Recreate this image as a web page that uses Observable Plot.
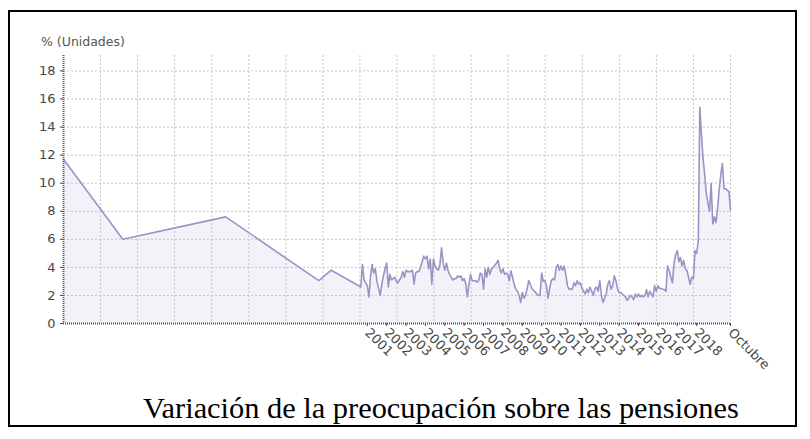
<!DOCTYPE html>
<html>
<head>
<meta charset="utf-8">
<script src="https://cdn.jsdelivr.net/npm/d3@7"></script>
<script src="https://cdn.jsdelivr.net/npm/@observablehq/plot@0.6"></script>
<style>
  html, body { margin: 0; padding: 0; background: #fff; }
  #wrap { position: relative; width: 810px; height: 439px; overflow: hidden; }
  #frame { position: absolute; left: 8px; top: 10px; width: 789px; height: 417px; border: 2px solid #000; box-sizing: border-box; }
  #chart { position: absolute; left: 0; top: 0; }
  #ylabel { position: absolute; left: 41px; top: 34px; font: 12.5px "DejaVu Sans", sans-serif; color: #555; white-space: nowrap; }
  #caption { position: absolute; left: 143px; top: 391px; font: 30.4px "Liberation Serif", serif; color: #000; white-space: nowrap; }
</style>
</head>
<body>
<div id="wrap">
  <div id="frame"></div>
  <div id="chart"></div>
  <div id="ylabel">% (Unidades)</div>
  <div id="caption">Variación de la preocupación sobre las pensiones</div>
</div>
<script>
// Early sparse observations
const fechasIniciales = ["1985-04-27", "1988-05-20", "1993-09-10", "1998-07-01", "1999-02-20", "2000-09-01"];
const valoresIniciales = [11.7, 6.0, 7.6, 3.05, 3.8, 2.6];

// Monthly series from October 2000 to October 2019
const inicioMensual = "2000-10-01";
const valoresMensuales = [
  4.2, 3.1, 2.9,                                                   // 2000 (oct-dic)
  2.7, 1.9, 3.3, 4.2, 3.6, 3.9, 3.0, 2.5, 2.0, 2.8, 3.4, 3.9,      // 2001
  4.3, 2.6, 3.5, 3.1, 3.2, 3.3, 3.0, 2.9, 3.1, 3.3, 3.7, 3.3,      // 2002
  3.8, 3.7, 3.7, 3.7, 3.8, 2.8, 3.6, 3.7, 3.7, 4.0, 4.4, 4.8,      // 2003
  4.6, 4.8, 3.9, 4.6, 2.8, 4.6, 4.1, 3.9, 3.8, 4.2, 5.4, 4.3,      // 2004
  3.8, 4.3, 3.8, 3.5, 3.3, 3.1, 3.2, 3.2, 3.4, 3.3, 3.4, 3.05,     // 2005
  3.2, 2.8, 1.9, 2.8, 3.5, 3.05, 3.05, 3.05, 2.95, 3.05, 3.6, 3.5, // 2006
  2.45, 3.9, 3.3, 4.0, 3.5, 3.9, 4.0, 4.15, 4.3, 4.5, 3.9, 3.6,    // 2007
  3.9, 3.5, 3.6, 3.5, 3.05, 3.75, 3.3, 2.8, 2.45, 2.3, 2.0, 1.5,   // 2008
  2.2, 1.8, 2.0, 2.45, 3.05, 2.8, 2.5, 2.35, 2.25, 2.1, 2.0, 2.0,  // 2009
  3.6, 3.0, 3.05, 2.7, 1.8, 2.5, 3.05, 3.2, 3.1, 4.0, 4.2, 3.8,    // 2010
  4.1, 3.8, 4.1, 3.5, 2.7, 2.45, 2.45, 2.45, 2.9, 2.7, 3.05, 2.8,  // 2011
  2.9, 2.5, 2.3, 2.1, 2.45, 2.2, 2.6, 2.3, 2.0, 2.5, 2.6, 2.3,     // 2012
  3.05, 2.0, 1.5, 1.8, 2.1, 2.8, 3.05, 2.45, 2.7, 3.4, 3.05, 2.45, // 2013
  2.2, 2.2, 2.1, 2.0, 1.9, 1.65, 1.8, 2.0, 1.9, 1.7, 2.1, 1.9,     // 2014
  2.1, 1.9, 2.0, 1.9, 2.0, 2.4, 1.9, 2.3, 2.1, 1.9, 2.7, 2.3,      // 2015
  2.7, 2.5, 2.5, 2.45, 2.4, 2.3, 4.1, 3.8, 3.3, 2.9, 4.3, 4.9,     // 2016
  5.2, 4.4, 4.7, 4.1, 4.5, 3.9, 3.8, 3.3, 2.8, 3.3, 3.2, 5.2,      // 2017
  5.0, 5.9, 15.4, 13.5, 11.8, 10.6, 9.3, 8.6, 8.0, 10.0, 7.1, 7.6, // 2018
  7.2, 8.3, 9.5, 10.6, 11.4, 9.6, 9.6, 9.5, 9.4, 8.1               // 2019 (ene-oct)
];

// Axis ticks
const yTicks = [0, 2, 4, 6, 8, 10, 12, 14, 16, 18];
const xTickFechas = ["2001-01-01", "2002-01-01", "2003-01-01", "2004-01-01", "2005-01-01", "2006-01-01",
  "2007-01-01", "2008-01-01", "2009-01-01", "2010-01-01", "2011-01-01", "2012-01-01", "2013-01-01",
  "2014-01-01", "2015-01-01", "2016-01-01", "2017-01-01", "2018-01-01", "2019-10-01"];
const xTickEtiquetas = ["2001", "2002", "2003", "2004", "2005", "2006", "2007", "2008", "2009", "2010",
  "2011", "2012", "2013", "2014", "2015", "2016", "2017", "2018", "Octubre"];

// Build table
const parse = s => new Date(s + "T00:00:00Z");
const datos = [];
fechasIniciales.forEach((f, i) => datos.push({fecha: parse(f), valor: valoresIniciales[i]}));
const m0 = parse(inicioMensual);
valoresMensuales.forEach((v, i) => datos.push({fecha: d3.utcMonth.offset(m0, i), valor: v}));

const xDomain = [parse("1985-04-27"), parse("2019-10-01")];
const xTicks = xTickFechas.map(parse);
const etiqueta = new Map(xTicks.map((d, i) => [+d, xTickEtiquetas[i]]));
// vertical grid: 18 equal divisions of the time domain
const xScaleTmp = d3.scaleUtc().domain(xDomain).range([0, 18]);
const gridX = d3.range(1, 18).map(k => xScaleTmp.invert(k));

const chart = Plot.plot({
  width: 810,
  height: 383,
  marginLeft: 63,
  marginRight: 80,
  marginTop: 55,
  marginBottom: 60,
  style: {fontFamily: "DejaVu Sans, sans-serif", fontSize: "12.5px", color: "#474747", background: "transparent", overflow: "visible"},
  x: {type: "utc", domain: xDomain},
  y: {domain: [0, 19.1]},
  marks: [
    Plot.areaY(datos, {x: "fecha", y: "valor", fill: "#f3f2f9"}),
    Plot.ruleY(yTicks.filter(d => d > 0), {stroke: "#c4c4c4", strokeDasharray: "2,2", strokeWidth: 1}),
    Plot.ruleX(gridX.concat([xDomain[1]]), {stroke: "#c4c4c4", strokeDasharray: "2,2", strokeWidth: 1}),
    Plot.lineY(datos, {x: "fecha", y: "valor", stroke: "#9894c6", strokeWidth: 1.6}),
    Plot.ruleX([xDomain[0]], {stroke: "#555", strokeDasharray: "1,1", strokeWidth: 2}),
    Plot.ruleY([0], {stroke: "#555", strokeDasharray: "1,1", strokeWidth: 2}),
    Plot.axisY(yTicks, {tickSize: 3, tickPadding: 5, label: null, stroke: "#444", fontSize: 13}),
    Plot.axisX(xTicks, {tickSize: 3, tickPadding: 4, tickRotate: 45, label: null, fontSize: 13,
      tickFormat: d => etiqueta.get(+d), stroke: "#444"})
  ]
});
document.getElementById("chart").appendChild(chart);
</script>
</body>
</html>
